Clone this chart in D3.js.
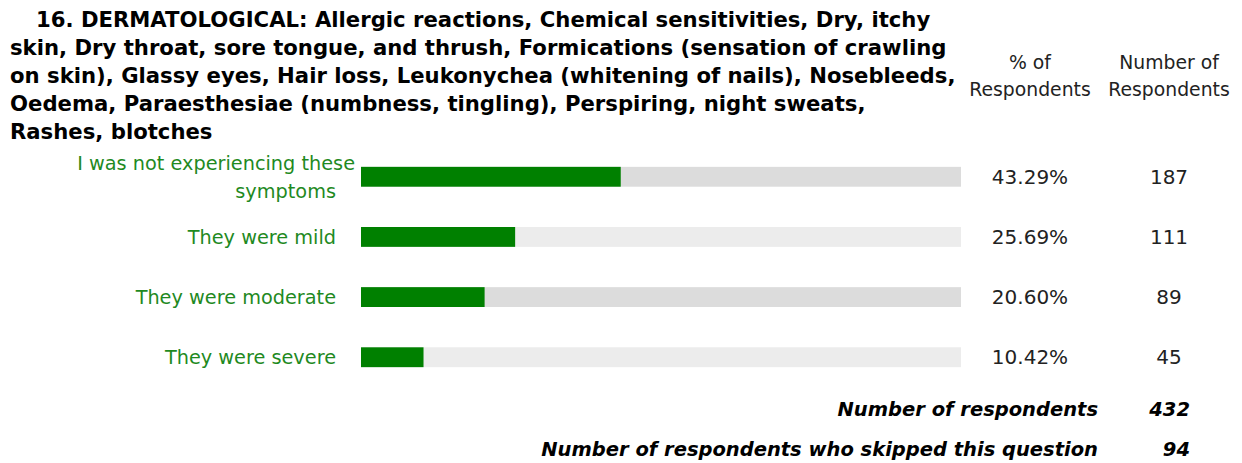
<!DOCTYPE html>
<html>
<head>
<meta charset="utf-8">
<script src="https://cdn.jsdelivr.net/npm/d3@7"></script>
<style>
  body { margin: 0; background: #fff; }
  text { font-family: "DejaVu Sans", sans-serif; }
</style>
</head>
<body>
<div id="chart"></div>
<script>
// Survey answers and results
const categories = [
  ["I was not experiencing these", "symptoms"],
  ["They were mild"],
  ["They were moderate"],
  ["They were severe"]
];
const percents = [43.29, 25.69, 20.60, 10.42];
const counts = [187, 111, 89, 45];
const titleLines = [
  "16. DERMATOLOGICAL: Allergic reactions, Chemical sensitivities, Dry, itchy",
  "skin, Dry throat, sore tongue, and thrush, Formications (sensation of crawling",
  "on skin), Glassy eyes, Hair loss, Leukonychea (whitening of nails), Nosebleeds,",
  "Oedema, Paraesthesiae (numbness, tingling), Perspiring, night sweats,",
  "Rashes, blotches"
];
const totals = [["Number of respondents", 432], ["Number of respondents who skipped this question", 94]];

const W = 1242, H = 463;
const svg = d3.select("#chart").append("svg")
  .attr("width", W).attr("height", H);

// title
svg.append("g").selectAll("text")
  .data(titleLines)
  .join("text")
    .attr("x", (d, i) => i === 0 ? 36 : 10)
    .attr("y", (d, i) => 27 + i * 28)
    .style("font-size", "21.2px")
    .style("font-weight", "bold")
    .style("fill", "#000")
    .text(d => d);

// column headers
const headers = [["% of", "Respondents"], ["Number of", "Respondents"]];
const colX = [1030, 1169];
headers.forEach((h, j) => {
  h.forEach((line, k) => {
    svg.append("text")
      .attr("x", colX[j]).attr("y", 69 + k * 27)
      .attr("text-anchor", "middle")
      .style("font-size", "18.8px")
      .style("fill", "#222")
      .text(line);
  });
});

const x = d3.scaleLinear().domain([0, 100]).range([361, 961]);
const y = d3.scaleBand()
  .domain(d3.range(categories.length))
  .range([147, 387])
  .paddingInner(0.67).paddingOuter(0.33);

const rows = svg.append("g").selectAll("g")
  .data(percents)
  .join("g");

rows.append("rect")
  .attr("x", x(0))
  .attr("y", (d, i) => y(i))
  .attr("width", x(100) - x(0))
  .attr("height", y.bandwidth())
  .attr("fill", (d, i) => i % 2 === 0 ? "#dcdcdc" : "#ececec");

rows.append("rect")
  .attr("x", x(0))
  .attr("y", (d, i) => y(i))
  .attr("width", d => x(d) - x(0))
  .attr("height", y.bandwidth())
  .attr("fill", "#008000");

// category labels
rows.each(function(d, i) {
  const lines = categories[i];
  const cy = y(i) + y.bandwidth() / 2;
  lines.forEach((line, k) => {
    d3.select(this).append("text")
      .attr("x", lines.length > 1 && k === 0 ? 355 : 336)
      .attr("y", cy + 7 + (k - (lines.length - 1) / 2) * 28)
      .attr("text-anchor", "end")
      .style("font-size", "19.3px")
      .style("fill", "#1f8a1f")
      .text(line);
  });
});

rows.append("text")
  .attr("x", colX[0])
  .attr("y", (d, i) => y(i) + y.bandwidth() / 2 + 7)
  .attr("text-anchor", "middle")
  .style("font-size", "20px")
  .style("fill", "#222")
  .text(d => d.toFixed(2) + "%");

rows.append("text")
  .attr("x", colX[1])
  .attr("y", (d, i) => y(i) + y.bandwidth() / 2 + 7)
  .attr("text-anchor", "middle")
  .style("font-size", "20px")
  .style("fill", "#222")
  .text((d, i) => counts[i]);

// totals at bottom
totals.forEach((t, i) => {
  const ty = 416 + i * 40;
  svg.append("text")
    .attr("x", 1098).attr("y", ty)
    .attr("text-anchor", "end")
    .style("font-size", "19.5px").style("font-weight", "bold").style("font-style", "italic")
    .text(t[0]);
  svg.append("text")
    .attr("x", 1190).attr("y", ty)
    .attr("text-anchor", "end")
    .style("font-size", "19.5px").style("font-weight", "bold").style("font-style", "italic")
    .text(t[1]);
});
</script>
</body>
</html>
